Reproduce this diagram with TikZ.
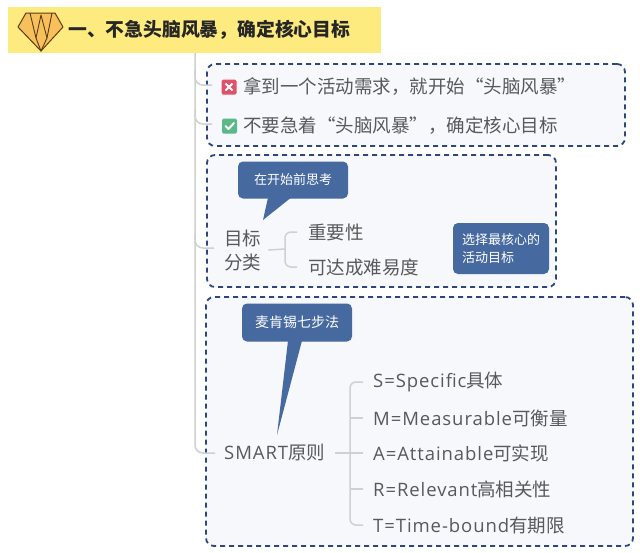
\documentclass[tikz,border=0pt]{standalone}
\usepackage{fontspec}
\setmainfont{Noto Sans CJK SC}
\newfontfamily\latinfont[LetterSpace=5]{Open Sans}
\newcommand{\lt}[1]{{\latinfont #1}}
\definecolor{textgray}{RGB}{89,89,89}
\definecolor{linegray}{RGB}{208,208,208}
\definecolor{navy}{RGB}{45,70,130}
\definecolor{calloutblue}{RGB}{70,105,160}
\definecolor{boxfill}{RGB}{246,248,252}
\definecolor{titleyellow}{RGB}{253,235,128}
\definecolor{gemfill}{RGB}{248,192,90}
\definecolor{gemline}{RGB}{90,60,20}
\definecolor{iconred}{RGB}{225,80,105}
\definecolor{icongreen}{RGB}{90,185,135}
\begin{document}
\begin{tikzpicture}[x=1pt,y=-1pt,
  maintext/.style={anchor=west, inner sep=0pt, text=textgray, font=\fontsize{18.5}{24}\selectfont},
  dashbox/.style={draw=navy, line width=1.8pt, dash pattern=on 5pt off 4pt, rounded corners=8pt, fill=boxfill, inner sep=0pt},
  calloutbox/.style={fill=calloutblue, rounded corners=5pt, text=white, inner sep=0pt},
  conn/.style={draw=linegray, line width=1.5pt, rounded corners=8pt},
  iconbox/.style={rounded corners=1.5pt, minimum size=15pt, inner sep=0pt},
  tick/.style={draw=white, line width=2pt}
]
\useasboundingbox (0,0) rectangle (640,552);
\fill[white] (0,0) rectangle (640,552);

% title bar
\fill[titleyellow] (8,7) rectangle (381,53);
\node[anchor=west, inner sep=0pt, text=black!85, font=\fontsize{18.8}{24}\selectfont\bfseries] (title) at (68,30) {一、不急头脑风暴，确定核心目标};
% gem icon
\filldraw[fill=gemfill, draw=gemline, line width=1pt, line join=round] (26,13) -- (55,13) -- (63,27) -- (41,51) -- (18,27) -- cycle;
\draw[gemline, line width=0.9pt, line join=round] (30,13) -- (36,38) -- (41,15) -- (47,38) -- (52,13);
\draw[gemline, line width=0.9pt] (36,38) -- (41,51) -- (47,38);

% dashed boxes
\node[dashbox, minimum width=418pt, minimum height=82pt] (box1) at (416,105) {};
\node[dashbox, minimum width=349pt, minimum height=132pt] (box2) at (381.5,221) {};
\node[dashbox, minimum width=427pt, minimum height=249pt] (box3) at (419.5,421.5) {};

% trunk and branches
\coordinate (trunktop) at (195,53);
\coordinate (b1) at (212,85);
\coordinate (b2) at (212,124);
\coordinate (b3) at (214,248);
\coordinate (b4) at (215,453);
\draw[conn] (trunktop) |- (b4);
\draw[conn] (195,70) |- (b1);
\draw[conn] (195,110) |- (b2);
\draw[conn] (195,234) |- (b3);

% box 1 items
\node[iconbox, fill=iconred] (ix) at (229,87) {};
\draw[tick] ([shift={(-3.5,-3.5)}]ix.center) -- ([shift={(3.5,3.5)}]ix.center);
\draw[tick] ([shift={(-3.5,3.5)}]ix.center) -- ([shift={(3.5,-3.5)}]ix.center);
\node[maintext] (i1) at (243,87) {拿到一个活动需求，就开始“头脑风暴”};
\node[iconbox, fill=icongreen] (iv) at (229.5,126) {};
\draw[tick, line cap=round, line join=round] ([shift={(-4,0)}]iv.center) -- ([shift={(-1,3)}]iv.center) -- ([shift={(4.5,-3)}]iv.center);
\node[maintext] (i2) at (243,126) {不要急着“头脑风暴”，确定核心目标};

% box 2
\node[maintext, align=left] (goal) at (224,250) {目标\\分类};
\node[maintext] (g1) at (308,232) {重要性};
\node[maintext] (g2) at (308,267) {可达成难易度};
\coordinate (gb) at (285,249);
\draw[conn] ([xshift=7pt]goal.east) -- (gb);
\draw[conn, rounded corners=6pt] ([xshift=-11pt]g1.west) -| (gb) |- ([xshift=-11pt]g2.west);

\node[calloutbox, minimum width=110pt, minimum height=37pt, font=\fontsize{13}{16}\selectfont] (c1) at (293,180) {在开始前思考};
\coordinate (c1tip) at (263,220);
\fill[calloutblue] ([shift={(-25,-1)}]c1.south) -- (c1tip) -- ([shift={(-2,-1)}]c1.south) -- cycle;

\node[calloutbox, minimum width=96pt, minimum height=51pt, align=left, font=\fontsize{13}{18}\selectfont] (c3) at (501,248.5) {选择最核心的\\活动目标};

% box 3
\node[maintext] (smart) at (224,453) {\lt{SMART}原则};
\node[maintext] (s1) at (373,382) {\lt{S=Specific}具体};
\node[maintext] (s2) at (373,418) {\lt{M=Measurable}可衡量};
\node[maintext] (s3) at (373,453) {\lt{A=Attainable}可实现};
\node[maintext] (s4) at (373,489) {\lt{R=Relevant}高相关性};
\node[maintext] (s5) at (373,525) {\lt{T=Time-bound}有期限};
\coordinate (sb) at (350,453);
\draw[conn] ([xshift=10pt]smart.east) -- ([xshift=-10pt]s3.west);
\draw[conn, rounded corners=6pt] ([xshift=-10pt]s1.west) -| (sb) |- ([xshift=-10pt]s5.west);
\draw[conn] (sb |- s2.west) -- ([xshift=-10pt]s2.west);
\draw[conn] (sb |- s4.west) -- ([xshift=-10pt]s4.west);

\node[calloutbox, minimum width=110pt, minimum height=38pt, font=\fontsize{14}{16}\selectfont] (c2) at (297,322.5) {麦肯锡七步法};
\coordinate (c2tip) at (277,435);
\fill[calloutblue] ([shift={(-9,-1)}]c2.south) -- (c2tip) -- ([shift={(5,-1)}]c2.south) -- cycle;
\end{tikzpicture}
\end{document}
